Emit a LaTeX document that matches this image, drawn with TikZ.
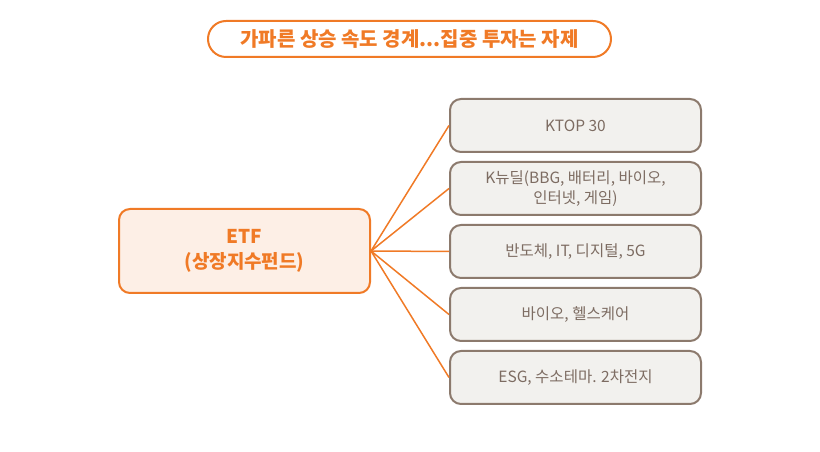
\documentclass[tikz,border=0pt]{standalone}
\usepackage{fontspec}
\setmainfont{Noto Sans CJK KR}
\usetikzlibrary{positioning}
\definecolor{etforange}{HTML}{F07A26}
\definecolor{etffill}{HTML}{FDEFE6}
\definecolor{themeline}{HTML}{8C7A6D}
\definecolor{themefill}{HTML}{F2F1EE}
\definecolor{themetext}{HTML}{7D6C62}
\tikzset{x=1pt, y=1pt}
\tikzset{titlebox/.style={draw=etforange, line width=2pt, rounded corners=18pt,
    minimum width=403pt, minimum height=36pt, text=etforange,
    font=\fontsize{20}{24}\selectfont\bfseries}}
\tikzset{etfbox/.style={draw=etforange, fill=etffill, line width=2pt, rounded corners=11pt,
    minimum width=251pt, minimum height=84pt, text=etforange, align=center,
    font=\fontsize{19}{25}\selectfont\bfseries}}
\tikzset{themebox/.style={draw=themeline, fill=themefill, line width=2pt, rounded corners=11pt,
    minimum width=251pt, minimum height=53pt, text=themetext, align=center,
    font=\fontsize{15.5}{19.5}\selectfont}}
\tikzset{branch/.style={draw=etforange, line width=1.5pt}}
\begin{document}
\begin{tikzpicture}[node distance=8pt]
  \useasboundingbox (0,0) rectangle (820,452);
  \node[titlebox] (title) at (409.5,413) {가파른 상승 속도 경계...집중 투자는 자제};
  \node[etfbox] (etf) at (244.5,201) {ETF\\(상장지수펀드)};
  % theme boxes
  \node[themebox] (ktop) at (575.5,326.5) {KTOP 30};
  \node[themebox, below=of ktop] (newdeal) {K뉴딜(BBG, 배터리, 바이오,\\인터넷, 게임)};
  \node[themebox, below=of newdeal] (semi) {반도체, IT, 디지털, 5G};
  \node[themebox, below=of semi] (bio) {바이오, 헬스케어};
  \node[themebox, below=of bio] (esg) {ESG, 수소테마. 2차전지};
  \foreach \t in {ktop,newdeal,semi,bio,esg}
    \draw[branch] (etf.east) -- (\t.west);
\end{tikzpicture}
\end{document}
